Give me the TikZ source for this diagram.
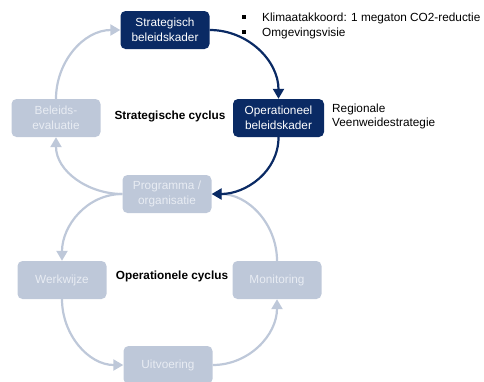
\documentclass[tikz,border=0pt]{standalone}
\usepackage{fontspec}
\setmainfont{Liberation Sans}
\usetikzlibrary{arrows.meta}

\definecolor{navy}{RGB}{10,42,100}
\definecolor{pale}{RGB}{190,200,217}
\definecolor{paletext}{RGB}{232,236,243}

\tikzset{
  box/.style={rounded corners=5pt, minimum width=89pt, minimum height=38pt,
    inner sep=1pt, align=center, font=\fontsize{11.8}{14.5}\selectfont},
  darkbox/.style={box, fill=navy, text=white},
  palebox/.style={box, fill=pale, text=paletext},
  darkarrow/.style={draw=navy, line width=2.2pt, -{Triangle[length=10pt,width=11pt]}},
  palearrow/.style={draw=pale, line width=2.2pt, -{Triangle[length=10pt,width=11pt]}},
  note/.style={font=\fontsize{11.8}{14.5}\selectfont, inner sep=0pt, align=left},
  cycletitle/.style={font=\fontsize{11.8}{14.5}\selectfont\bfseries, inner sep=0pt}
}

\begin{document}
\begin{tikzpicture}[x=1pt,y=-1pt]
  \useasboundingbox (0,0) rectangle (484,381);

  % strategic cycle
  \node[darkbox] (sb) at (165,30) {Strategisch\\beleidskader};
  \node[darkbox, minimum width=91pt] (ob) at (278.5,118) {Operationeel\\beleidskader};
  \node[palebox] (po) at (167,194) {Programma /\\organisatie};
  \node[palebox] (be) at (56,118) {Beleids-\\evaluatie};
  \node[cycletitle] (sc) at (170,116) {Strategische cyclus};

  % operational cycle
  \node[palebox] (ww) at (62,280) {Werkwijze};
  \node[palebox] (ui) at (168,365) {Uitvoering};
  \node[palebox] (mo) at (277,280) {Monitoring};
  \node[cycletitle] (oc) at (172,276) {Operationele cyclus};

  % connectors, pale first so the dark tip stays on top
  \draw[palearrow] (po.west) to[out=180,in=-90] (be.south);
  \draw[palearrow] (be.north) to[out=90,in=180] (sb.west);
  \draw[palearrow] (po.west) to[out=180,in=90] (ww.north);
  \draw[palearrow] (ww.south) to[out=-90,in=180] (ui.west);
  \draw[palearrow] (ui.east) to[out=0,in=-90] (mo.south);
  \draw[palearrow] (mo.north) to[out=90,in=0] (po.east);
  \draw[darkarrow] (sb.east) to[out=0,in=90] (ob.north);
  \draw[darkarrow] (ob.south) to[out=-90,in=0] (po.east);

  % notes beside the dark boxes
  \node[note, anchor=base west] (k1) at (241.5,21.3)
    {\makebox[20.5pt][l]{\rule[2.4pt]{4pt}{4pt}}Klimaatakkoord: 1 megaton CO2-reductie};
  \node[note, anchor=base west] (k2) at (241.5,36)
    {\makebox[20.5pt][l]{\rule[2.4pt]{4pt}{4pt}}Omgevingsvisie};
  \node[note, anchor=base west] (rv) at (332,112)
    {Regionale};
  \node[note, anchor=base west] (vw) at (332,126.5)
    {Veenweidestrategie};
\end{tikzpicture}
\end{document}
